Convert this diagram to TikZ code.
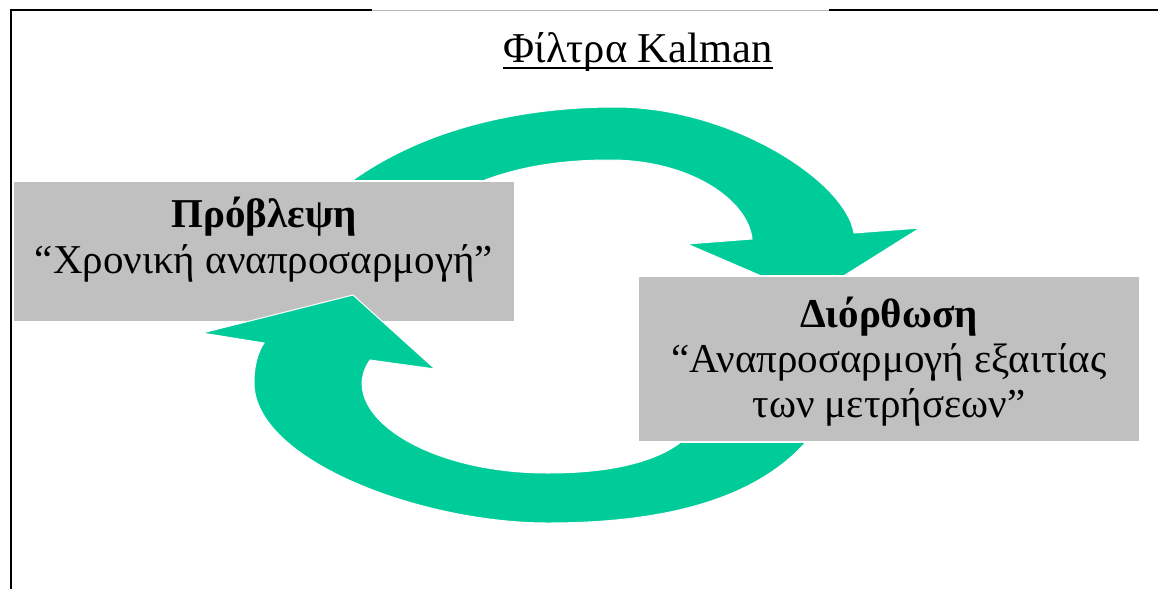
\documentclass[tikz,border=0pt]{standalone}
\usepackage{fontspec}
\setmainfont{Liberation Serif}
\definecolor{cyclegreen}{RGB}{0,204,153}
\definecolor{panelgray}{RGB}{192,192,192}
\definecolor{rulegray}{RGB}{185,185,185}

\tikzset{
  panel/.style={fill=panelgray, draw=white, line width=2pt, inner sep=0pt},
  bigarrow/.style={fill=cyclegreen, draw=white, line width=1pt, line join=miter},
  bodytext/.style={anchor=base, inner sep=0pt, font=\fontsize{41}{46}\selectfont},
  frameline/.style={line width=2pt, black},
}

\begin{document}
\begin{tikzpicture}[x=1pt, y=-1pt]
\useasboundingbox (0,0) rectangle (1158,589);

% outer frame (top and left edges)
\draw[frameline] (11,589) -- (11,10) -- (372,10);
\draw[line width=1pt, rulegray] (372,10) -- (829,10);
\draw[frameline] (829,10) -- (1158,10);

% title
\node[bodytext, font=\fontsize{42.5}{46}\selectfont] (title) at (638,62) {Φίλτρα Kalman};
\draw[line width=1.6pt] ([yshift=-6pt]title.base west) -- ([yshift=-6pt]title.base east);

% upper curved arrow: prediction -> correction
\path[bigarrow] (350,188) -- (353,180)
  .. controls (430,125) and (530,107) .. (615,107)
  .. controls (730,107) and (845,180) .. (854,233)
  -- (920,228) -- (810,297) -- (687,244) -- (752,239)
  .. controls (748,200) and (690,160) .. (610,160)
  .. controls (560,160) and (520,167) .. (485,180)
  -- (482,188) -- cycle;

% prediction panel
\node[panel, minimum width=502pt, minimum height=141pt] (predbox) at (264,251.5) {};

% lower curved arrow: correction -> prediction
\path[bigarrow] (810,430) -- (806,442)
  .. controls (750,505) and (650,523) .. (548,523)
  .. controls (420,523) and (254,460) .. (254,383)
  .. controls (254,365) and (258,352) .. (264,343)
  -- (202,333) -- (353,295) -- (435,369) -- (370,360)
  .. controls (335,410) and (420,473) .. (548,473)
  .. controls (610,473) and (655,462) .. (681,442)
  -- (684,430) -- cycle;

% correction panel
\node[panel, minimum width=502pt, minimum height=166pt] (corrbox) at (889,359) {};

% panel texts
\node[bodytext, font=\fontsize{41}{46}\selectfont\bfseries] (predhead) at (264,227) {Πρόβλεψη};
\node[bodytext] (predsub) at (264,273) {“Χρονική αναπροσαρμογή”};

\node[bodytext, font=\fontsize{41}{46}\selectfont\bfseries] (corrhead) at (889,327) {Διόρθωση};
\node[bodytext] (corrsub) at (889,372) {“Αναπροσαρμογή εξαιτίας};
\node[bodytext] (corrsub2) at (889,417) {των μετρήσεων”};
\end{tikzpicture}
\end{document}
